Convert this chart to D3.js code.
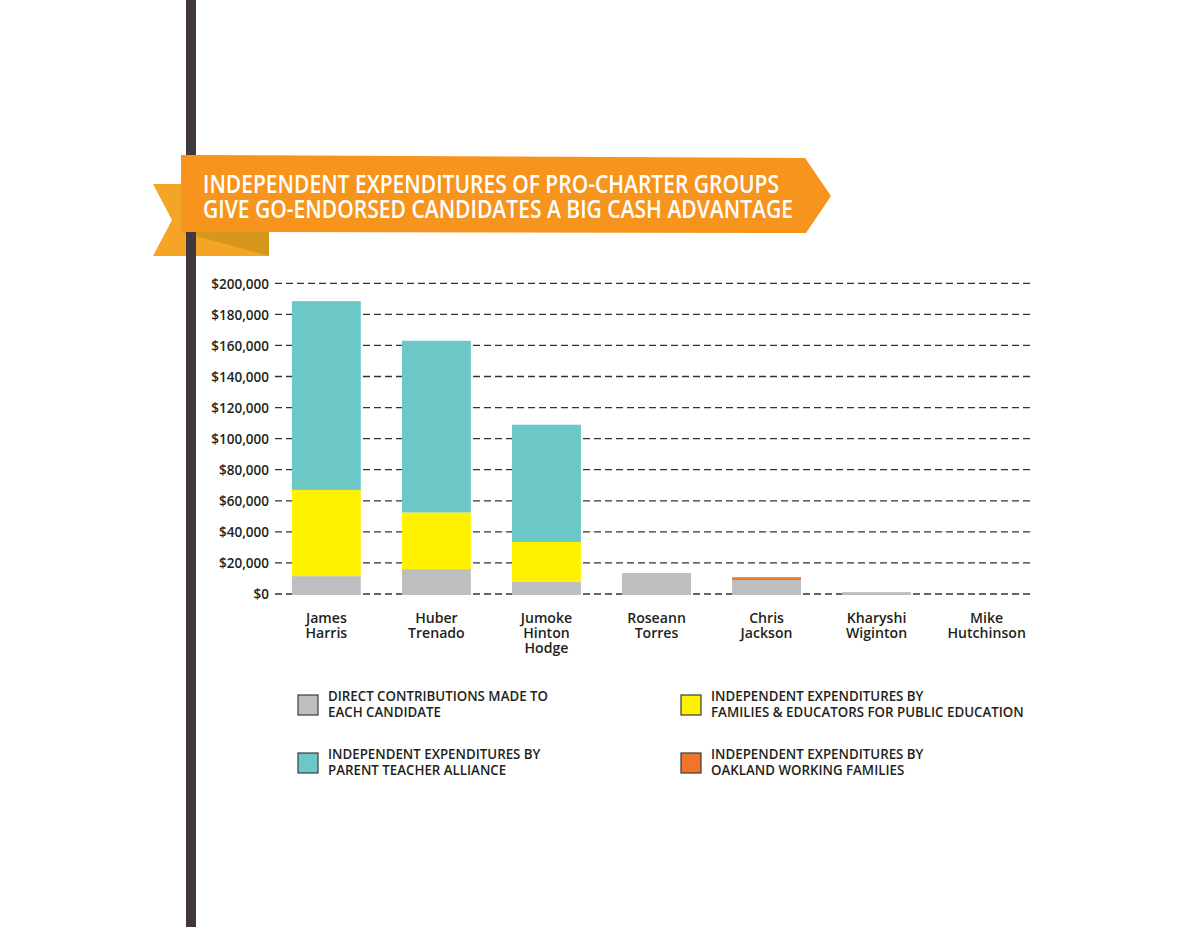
<!DOCTYPE html>
<html>
<head>
<meta charset="utf-8">
<script src="https://cdn.jsdelivr.net/npm/d3@7/dist/d3.min.js"></script>
<style>
  body { margin: 0; background: #fff; }
  svg { display: block; }
</style>
</head>
<body>
<div id="chart"></div>
<script>
// data
const candidates = ['James Harris', 'Huber Trenado', 'Jumoke Hinton Hodge', 'Roseann Torres',
                    'Chris Jackson', 'Kharyshi Wiginton', 'Mike Hutchinson'];
const direct   = [11500, 16000, 8000, 13500, 9000, 1200, 0];     // 直接捐款
const families = [55500, 36500, 25500, 0, 0, 0, 0];             // Families & Educators
const alliance = [121500, 110500, 75500, 0, 0, 0, 0];           // Parent Teacher Alliance
const oakland  = [0, 0, 0, 0, 1800, 0, 0];                       // Oakland Working Families
const yTickValues = [0, 20000, 40000, 60000, 80000, 100000, 120000, 140000, 160000, 180000, 200000];
const titleLines = ['INDEPENDENT EXPENDITURES OF PRO-CHARTER GROUPS',
                    'GIVE GO-ENDORSED CANDIDATES A BIG CASH ADVANTAGE'];
const seriesKeys   = ['direct', 'families', 'alliance', 'oakland'];
const legendLabels = [
  ['DIRECT CONTRIBUTIONS MADE TO', 'EACH CANDIDATE'],
  ['INDEPENDENT EXPENDITURES BY', 'FAMILIES & EDUCATORS FOR PUBLIC EDUCATION'],
  ['INDEPENDENT EXPENDITURES BY', 'PARENT TEACHER ALLIANCE'],
  ['INDEPENDENT EXPENDITURES BY', 'OAKLAND WORKING FAMILIES']
];
const legendKeys = ['direct', 'families', 'alliance', 'oakland'];

const colors = { direct: '#bcbec0', families: '#fff200', alliance: '#6cc8c6', oakland: '#ef7628' };
const font = '"Open Sans", "Noto Sans", sans-serif';
const ink = '#231f20';

const width = 1200, height = 927;
const svg = d3.select('#chart').append('svg')
  .attr('width', width).attr('height', height);

// 文字压窄，模仿窄体字
function narrow(sel, k) {
  sel.each(function () {
    const w = this.getComputedTextLength();
    d3.select(this).attr('textLength', w * k).attr('lengthAdjust', 'spacingAndGlyphs');
  });
}

// 横幅（尾巴、折角、竖杆、主体）
svg.append('polygon')
  .attr('points', '153,184 269,184 269,256 153,256 172,220')
  .attr('fill', '#f5a526');
svg.append('polygon')
  .attr('points', '181,232 269,232 269,256')
  .attr('fill', '#d6981c');
svg.append('rect')
  .attr('x', 186).attr('y', 0).attr('width', 10).attr('height', height)
  .attr('fill', '#41383a');
svg.append('polygon')
  .attr('points', '181,155 805,158 831,196 806,233 181,232')
  .attr('fill', '#f7941d');

// 标题，两行放在同一个text里
const titleWidths = [576, 590];
svg.append('text')
  .attr('y', 193)
  .style('font-family', font)
  .style('font-weight', 600)
  .style('font-size', '25px')
  .style('fill', '#fff')
  .selectAll('tspan')
  .data(titleLines)
  .enter().append('tspan')
  .attr('x', 203)
  .attr('dy', (d, i) => i === 0 ? 0 : 25)
  .attr('textLength', (d, i) => titleWidths[i])
  .attr('lengthAdjust', 'spacingAndGlyphs')
  .text(d => d);

// 比例尺
const x = d3.scaleBand()
  .domain(candidates)
  .range([282, 1031])
  .paddingInner(0.374)
  .paddingOuter(0.09);
const y = d3.scaleLinear().domain([0, 200000]).range([594, 283.3]);

// 虚线网格
const grid = svg.append('g');
grid.selectAll('line')
  .data(yTickValues)
  .enter().append('line')
  .attr('x1', 275).attr('x2', 1032)
  .attr('y1', d => y(d)).attr('y2', d => y(d))
  .attr('stroke', '#333')
  .attr('stroke-width', 1.3)
  .attr('stroke-dasharray', '7 4');

// y轴文字
const yAxis = svg.append('g')
  .attr('transform', 'translate(269,0)')
  .call(d3.axisLeft(y).tickValues(yTickValues).tickSize(0).tickPadding(0)
    .tickFormat(d => '$' + d3.format(',')(d)));
yAxis.select('.domain').remove();
yAxis.selectAll('text')
  .attr('dy', '0.35em')
  .style('font-family', font)
  .style('font-weight', 600)
  .style('font-size', '13.5px')
  .style('fill', ink);

// 堆叠柱
const rows = candidates.map((c, i) => ({
  name: c, direct: direct[i], families: families[i], alliance: alliance[i], oakland: oakland[i]
}));
const stacked = d3.stack().keys(seriesKeys)(rows);

svg.append('g').selectAll('g')
  .data(stacked)
  .enter().append('g')
  .attr('fill', d => colors[d.key])
  .selectAll('rect')
  .data(d => d.filter(s => s[1] - s[0] > 0))
  .enter().append('rect')
  .attr('x', d => x(d.data.name))
  .attr('width', x.bandwidth())
  .attr('y', d => y(d[1]))
  .attr('height', d => y(d[0]) - y(d[1]) + (d[0] === 0 ? 1 : 0));

// x轴文字（名字分行）
const xLabels = svg.append('g')
  .selectAll('text')
  .data(candidates)
  .enter().append('text')
  .attr('y', 623)
  .attr('text-anchor', 'middle')
  .style('font-family', font)
  .style('font-weight', 600)
  .style('font-size', '15px')
  .style('fill', ink);
xLabels.selectAll('tspan')
  .data(c => c.split(' ').map(part => ({ c, part })))
  .enter().append('tspan')
  .attr('x', d => x(d.c) + x.bandwidth() / 2)
  .attr('dy', (d, j) => j === 0 ? 0 : 15)
  .text(d => d.part);
narrow(xLabels.selectAll('tspan'), 0.94);

// 图例 2x2
const legendX = [298, 681], legendY = [695, 753];
legendKeys.forEach((k, i) => {
  const lx = legendX[i % 2], ly = legendY[Math.floor(i / 2)];
  svg.append('rect')
    .attr('x', lx).attr('y', ly)
    .attr('width', 20).attr('height', 20)
    .attr('fill', colors[k])
    .attr('stroke', '#3a3a3a')
    .attr('stroke-width', 1.2);
  const t = svg.append('text')
    .attr('y', ly + 6)
    .style('font-family', font)
    .style('font-weight', 600)
    .style('font-size', '14px')
    .style('fill', ink);
  legendLabels[i].forEach((line, j) => {
    t.append('tspan')
      .attr('class', 'legend-line')
      .attr('x', lx + 30)
      .attr('dy', j === 0 ? 0 : 16)
      .text(line);
  });
});
narrow(svg.selectAll('.legend-line'), 0.95);
</script>
</body>
</html>
